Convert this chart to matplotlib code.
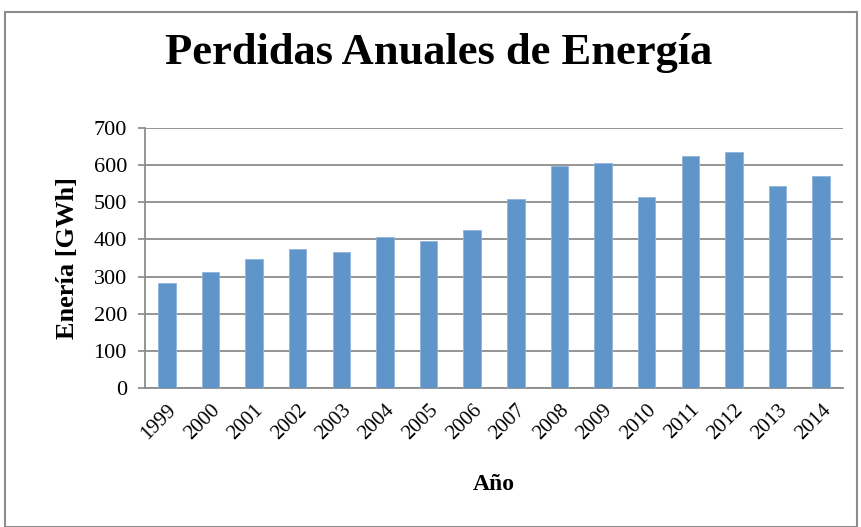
import matplotlib.pyplot as plt
from matplotlib.patches import Rectangle

# annual energy losses (GWh)
years = ['1999', '2000', '2001', '2002', '2003', '2004', '2005', '2006',
         '2007', '2008', '2009', '2010', '2011', '2012', '2013', '2014']
losses = [282, 312, 347, 373, 366, 406, 395, 426,
          509, 597, 606, 513, 624, 635, 545, 571]
yticks = [0, 100, 200, 300, 400, 500, 600, 700]

plt.rcParams['font.family'] = ['Liberation Serif', 'DejaVu Serif']

fig = plt.figure(figsize=(8.62, 5.27), dpi=100)
ax = fig.add_axes([145 / 862, 139 / 527, 698 / 862, 260 / 527])

x = range(len(years))
ax.bar(x, losses, width=0.4, color='#5f95c9', edgecolor='#8fb4dc',
       linewidth=0.6, zorder=3)

ax.set_xlim(-0.5, len(years) - 0.5)
ax.set_ylim(0, 700)
ax.set_yticks(yticks)
ax.set_yticklabels([str(v) for v in yticks], fontsize=16)
ax.set_xticks(list(x))
ax.set_xticklabels(years, rotation=45, ha='right', rotation_mode='anchor',
                   fontsize=15)
ax.tick_params(axis='x', length=0, pad=9)
ax.tick_params(axis='y', length=5, color='#888888', width=1.2, pad=8)
ax.grid(axis='y', color='#8c8c8c', linewidth=1.3, zorder=0)

for side in ['top', 'right']:
    ax.spines[side].set_visible(False)
for side in ['left', 'bottom']:
    ax.spines[side].set_color('#8c8c8c')
    ax.spines[side].set_linewidth(1.3)

fig.text(439 / 862, 1 - 53 / 527, 'Perdidas Anuales de Energía',
         ha='center', va='center', fontsize=32, fontweight='bold')
fig.text(68 / 862, 1 - 258 / 527, 'Enería [GWh]', rotation=90,
         ha='center', va='center', fontsize=19, fontweight='bold')
fig.text(494 / 862, 1 - 485 / 527, 'Año', ha='center', va='center',
         fontsize=17, fontweight='bold')

# outer chart border
fig.patches.append(Rectangle((5 / 862, 0), 852 / 862, 515 / 527,
                             transform=fig.transFigure, fill=False,
                             edgecolor='#8c8c8c', linewidth=1.5))

fig.savefig('out.png', dpi=100)
